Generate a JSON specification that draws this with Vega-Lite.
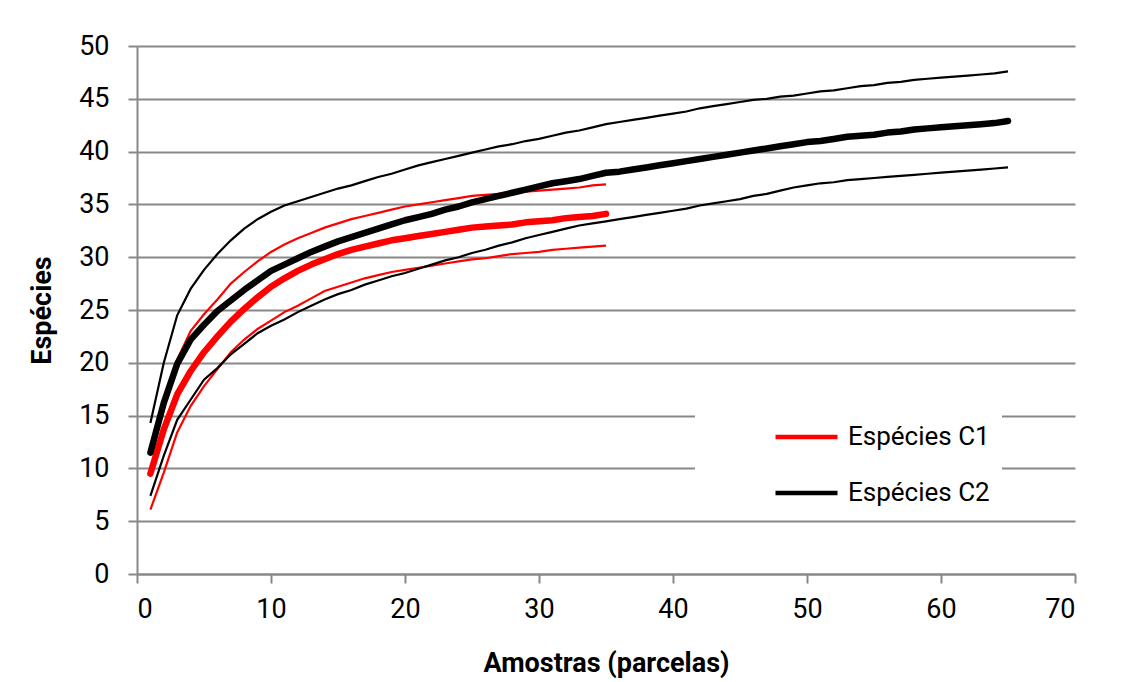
{
  "$schema": "https://vega.github.io/schema/vega-lite/v6.json",
  "width": 938,
  "height": 528,
  "autosize": {"type": "none"},
  "padding": {"left": 137, "top": 46, "right": 49, "bottom": 108},
  "background": "white",
  "config": {
    "font": "Roboto",
    "view": {"stroke": null},
    "axis": {
      "domainColor": "#888888",
      "domainWidth": 2,
      "tickColor": "#888888",
      "tickWidth": 2,
      "tickSize": 9,
      "gridColor": "#888888",
      "gridWidth": 2,
      "labelFont": "Roboto",
      "labelFontSize": 27,
      "labelColor": "#000000",
      "titleFont": "Roboto",
      "titleFontSize": 27,
      "titleFontWeight": "bold",
      "titleColor": "#000000"
    },
    "legend": {
      "orient": "none",
      "legendX": 558,
      "legendY": 364,
      "fillColor": "#ffffff",
      "padding": 12,
      "symbolType": "stroke",
      "symbolSize": 3844,
      "symbolStrokeWidth": 4.5,
      "symbolOffset": 66,
      "clipHeight": 30,
      "rowPadding": 26,
      "labelOffset": 8,
      "labelFont": "Roboto",
      "labelFontSize": 26,
      "labelColor": "#000000",
      "labelLimit": 400
    }
  },
  "data": {
    "values": [
      {"x":1,"s":"Espécies C1","c":"sup","y":11.8},{"x":2,"s":"Espécies C1","c":"sup","y":16.5},{"x":3,"s":"Espécies C1","c":"sup","y":20.3},{"x":4,"s":"Espécies C1","c":"sup","y":23.0},{"x":5,"s":"Espécies C1","c":"sup","y":24.6},{"x":6,"s":"Espécies C1","c":"sup","y":26.0},{"x":7,"s":"Espécies C1","c":"sup","y":27.5},{"x":8,"s":"Espécies C1","c":"sup","y":28.6},{"x":9,"s":"Espécies C1","c":"sup","y":29.6},{"x":10,"s":"Espécies C1","c":"sup","y":30.5},
      {"x":11,"s":"Espécies C1","c":"sup","y":31.2},{"x":12,"s":"Espécies C1","c":"sup","y":31.8},{"x":13,"s":"Espécies C1","c":"sup","y":32.3},{"x":14,"s":"Espécies C1","c":"sup","y":32.8},{"x":15,"s":"Espécies C1","c":"sup","y":33.2},{"x":16,"s":"Espécies C1","c":"sup","y":33.6},{"x":17,"s":"Espécies C1","c":"sup","y":33.9},{"x":18,"s":"Espécies C1","c":"sup","y":34.2},{"x":19,"s":"Espécies C1","c":"sup","y":34.5},{"x":20,"s":"Espécies C1","c":"sup","y":34.8},
      {"x":21,"s":"Espécies C1","c":"sup","y":35.0},{"x":22,"s":"Espécies C1","c":"sup","y":35.2},{"x":23,"s":"Espécies C1","c":"sup","y":35.4},{"x":24,"s":"Espécies C1","c":"sup","y":35.6},{"x":25,"s":"Espécies C1","c":"sup","y":35.8},{"x":26,"s":"Espécies C1","c":"sup","y":35.9},{"x":27,"s":"Espécies C1","c":"sup","y":36.0},{"x":28,"s":"Espécies C1","c":"sup","y":36.1},{"x":29,"s":"Espécies C1","c":"sup","y":36.2},{"x":30,"s":"Espécies C1","c":"sup","y":36.3},
      {"x":31,"s":"Espécies C1","c":"sup","y":36.4},{"x":32,"s":"Espécies C1","c":"sup","y":36.5},{"x":33,"s":"Espécies C1","c":"sup","y":36.6},{"x":34,"s":"Espécies C1","c":"sup","y":36.8},{"x":35,"s":"Espécies C1","c":"sup","y":36.9},

      {"x":1,"s":"Espécies C1","c":"inf","y":6.1},{"x":2,"s":"Espécies C1","c":"inf","y":9.6},{"x":3,"s":"Espécies C1","c":"inf","y":13.4},{"x":4,"s":"Espécies C1","c":"inf","y":15.9},{"x":5,"s":"Espécies C1","c":"inf","y":17.8},{"x":6,"s":"Espécies C1","c":"inf","y":19.4},{"x":7,"s":"Espécies C1","c":"inf","y":21.0},{"x":8,"s":"Espécies C1","c":"inf","y":22.2},{"x":9,"s":"Espécies C1","c":"inf","y":23.2},{"x":10,"s":"Espécies C1","c":"inf","y":24.0},
      {"x":11,"s":"Espécies C1","c":"inf","y":24.8},{"x":12,"s":"Espécies C1","c":"inf","y":25.4},{"x":13,"s":"Espécies C1","c":"inf","y":26.1},{"x":14,"s":"Espécies C1","c":"inf","y":26.8},{"x":15,"s":"Espécies C1","c":"inf","y":27.2},{"x":16,"s":"Espécies C1","c":"inf","y":27.6},{"x":17,"s":"Espécies C1","c":"inf","y":28.0},{"x":18,"s":"Espécies C1","c":"inf","y":28.3},{"x":19,"s":"Espécies C1","c":"inf","y":28.6},{"x":20,"s":"Espécies C1","c":"inf","y":28.8},
      {"x":21,"s":"Espécies C1","c":"inf","y":29.0},{"x":22,"s":"Espécies C1","c":"inf","y":29.2},{"x":23,"s":"Espécies C1","c":"inf","y":29.4},{"x":24,"s":"Espécies C1","c":"inf","y":29.6},{"x":25,"s":"Espécies C1","c":"inf","y":29.8},{"x":26,"s":"Espécies C1","c":"inf","y":29.9},{"x":27,"s":"Espécies C1","c":"inf","y":30.1},{"x":28,"s":"Espécies C1","c":"inf","y":30.3},{"x":29,"s":"Espécies C1","c":"inf","y":30.4},{"x":30,"s":"Espécies C1","c":"inf","y":30.5},
      {"x":31,"s":"Espécies C1","c":"inf","y":30.7},{"x":32,"s":"Espécies C1","c":"inf","y":30.8},{"x":33,"s":"Espécies C1","c":"inf","y":30.9},{"x":34,"s":"Espécies C1","c":"inf","y":31.0},{"x":35,"s":"Espécies C1","c":"inf","y":31.1},

      {"x":1,"s":"Espécies C2","c":"sup","y":14.3},{"x":2,"s":"Espécies C2","c":"sup","y":20.0},{"x":3,"s":"Espécies C2","c":"sup","y":24.5},{"x":4,"s":"Espécies C2","c":"sup","y":27.0},{"x":5,"s":"Espécies C2","c":"sup","y":28.8},{"x":6,"s":"Espécies C2","c":"sup","y":30.3},{"x":7,"s":"Espécies C2","c":"sup","y":31.6},{"x":8,"s":"Espécies C2","c":"sup","y":32.7},{"x":9,"s":"Espécies C2","c":"sup","y":33.6},{"x":10,"s":"Espécies C2","c":"sup","y":34.3},
      {"x":11,"s":"Espécies C2","c":"sup","y":34.9},{"x":12,"s":"Espécies C2","c":"sup","y":35.3},{"x":13,"s":"Espécies C2","c":"sup","y":35.7},{"x":14,"s":"Espécies C2","c":"sup","y":36.1},{"x":15,"s":"Espécies C2","c":"sup","y":36.5},{"x":16,"s":"Espécies C2","c":"sup","y":36.8},{"x":17,"s":"Espécies C2","c":"sup","y":37.2},{"x":18,"s":"Espécies C2","c":"sup","y":37.6},{"x":19,"s":"Espécies C2","c":"sup","y":37.9},{"x":20,"s":"Espécies C2","c":"sup","y":38.3},
      {"x":21,"s":"Espécies C2","c":"sup","y":38.7},{"x":22,"s":"Espécies C2","c":"sup","y":39.0},{"x":23,"s":"Espécies C2","c":"sup","y":39.3},{"x":24,"s":"Espécies C2","c":"sup","y":39.6},{"x":25,"s":"Espécies C2","c":"sup","y":39.9},{"x":26,"s":"Espécies C2","c":"sup","y":40.2},{"x":27,"s":"Espécies C2","c":"sup","y":40.5},{"x":28,"s":"Espécies C2","c":"sup","y":40.7},{"x":29,"s":"Espécies C2","c":"sup","y":41.0},{"x":30,"s":"Espécies C2","c":"sup","y":41.2},
      {"x":31,"s":"Espécies C2","c":"sup","y":41.5},{"x":32,"s":"Espécies C2","c":"sup","y":41.8},{"x":33,"s":"Espécies C2","c":"sup","y":42.0},{"x":34,"s":"Espécies C2","c":"sup","y":42.3},{"x":35,"s":"Espécies C2","c":"sup","y":42.6},{"x":36,"s":"Espécies C2","c":"sup","y":42.8},{"x":37,"s":"Espécies C2","c":"sup","y":43.0},{"x":38,"s":"Espécies C2","c":"sup","y":43.2},{"x":39,"s":"Espécies C2","c":"sup","y":43.4},{"x":40,"s":"Espécies C2","c":"sup","y":43.6},
      {"x":41,"s":"Espécies C2","c":"sup","y":43.8},{"x":42,"s":"Espécies C2","c":"sup","y":44.1},{"x":43,"s":"Espécies C2","c":"sup","y":44.3},{"x":44,"s":"Espécies C2","c":"sup","y":44.5},{"x":45,"s":"Espécies C2","c":"sup","y":44.7},{"x":46,"s":"Espécies C2","c":"sup","y":44.9},{"x":47,"s":"Espécies C2","c":"sup","y":45.0},{"x":48,"s":"Espécies C2","c":"sup","y":45.2},{"x":49,"s":"Espécies C2","c":"sup","y":45.3},{"x":50,"s":"Espécies C2","c":"sup","y":45.5},
      {"x":51,"s":"Espécies C2","c":"sup","y":45.7},{"x":52,"s":"Espécies C2","c":"sup","y":45.8},{"x":53,"s":"Espécies C2","c":"sup","y":46.0},{"x":54,"s":"Espécies C2","c":"sup","y":46.2},{"x":55,"s":"Espécies C2","c":"sup","y":46.3},{"x":56,"s":"Espécies C2","c":"sup","y":46.5},{"x":57,"s":"Espécies C2","c":"sup","y":46.6},{"x":58,"s":"Espécies C2","c":"sup","y":46.8},{"x":59,"s":"Espécies C2","c":"sup","y":46.9},{"x":60,"s":"Espécies C2","c":"sup","y":47.0},
      {"x":61,"s":"Espécies C2","c":"sup","y":47.1},{"x":62,"s":"Espécies C2","c":"sup","y":47.2},{"x":63,"s":"Espécies C2","c":"sup","y":47.3},{"x":64,"s":"Espécies C2","c":"sup","y":47.4},{"x":65,"s":"Espécies C2","c":"sup","y":47.6},

      {"x":1,"s":"Espécies C2","c":"inf","y":7.4},{"x":2,"s":"Espécies C2","c":"inf","y":11.2},{"x":3,"s":"Espécies C2","c":"inf","y":14.6},{"x":4,"s":"Espécies C2","c":"inf","y":16.5},{"x":5,"s":"Espécies C2","c":"inf","y":18.4},{"x":6,"s":"Espécies C2","c":"inf","y":19.5},{"x":7,"s":"Espécies C2","c":"inf","y":20.8},{"x":8,"s":"Espécies C2","c":"inf","y":21.8},{"x":9,"s":"Espécies C2","c":"inf","y":22.8},{"x":10,"s":"Espécies C2","c":"inf","y":23.5},
      {"x":11,"s":"Espécies C2","c":"inf","y":24.1},{"x":12,"s":"Espécies C2","c":"inf","y":24.8},{"x":13,"s":"Espécies C2","c":"inf","y":25.4},{"x":14,"s":"Espécies C2","c":"inf","y":26.0},{"x":15,"s":"Espécies C2","c":"inf","y":26.5},{"x":16,"s":"Espécies C2","c":"inf","y":26.9},{"x":17,"s":"Espécies C2","c":"inf","y":27.4},{"x":18,"s":"Espécies C2","c":"inf","y":27.8},{"x":19,"s":"Espécies C2","c":"inf","y":28.2},{"x":20,"s":"Espécies C2","c":"inf","y":28.5},
      {"x":21,"s":"Espécies C2","c":"inf","y":28.9},{"x":22,"s":"Espécies C2","c":"inf","y":29.3},{"x":23,"s":"Espécies C2","c":"inf","y":29.7},{"x":24,"s":"Espécies C2","c":"inf","y":30.0},{"x":25,"s":"Espécies C2","c":"inf","y":30.4},{"x":26,"s":"Espécies C2","c":"inf","y":30.7},{"x":27,"s":"Espécies C2","c":"inf","y":31.1},{"x":28,"s":"Espécies C2","c":"inf","y":31.4},{"x":29,"s":"Espécies C2","c":"inf","y":31.8},{"x":30,"s":"Espécies C2","c":"inf","y":32.1},
      {"x":31,"s":"Espécies C2","c":"inf","y":32.4},{"x":32,"s":"Espécies C2","c":"inf","y":32.7},{"x":33,"s":"Espécies C2","c":"inf","y":33.0},{"x":34,"s":"Espécies C2","c":"inf","y":33.2},{"x":35,"s":"Espécies C2","c":"inf","y":33.4},{"x":36,"s":"Espécies C2","c":"inf","y":33.6},{"x":37,"s":"Espécies C2","c":"inf","y":33.8},{"x":38,"s":"Espécies C2","c":"inf","y":34.0},{"x":39,"s":"Espécies C2","c":"inf","y":34.2},{"x":40,"s":"Espécies C2","c":"inf","y":34.4},
      {"x":41,"s":"Espécies C2","c":"inf","y":34.6},{"x":42,"s":"Espécies C2","c":"inf","y":34.9},{"x":43,"s":"Espécies C2","c":"inf","y":35.1},{"x":44,"s":"Espécies C2","c":"inf","y":35.3},{"x":45,"s":"Espécies C2","c":"inf","y":35.5},{"x":46,"s":"Espécies C2","c":"inf","y":35.8},{"x":47,"s":"Espécies C2","c":"inf","y":36.0},{"x":48,"s":"Espécies C2","c":"inf","y":36.3},{"x":49,"s":"Espécies C2","c":"inf","y":36.6},{"x":50,"s":"Espécies C2","c":"inf","y":36.8},
      {"x":51,"s":"Espécies C2","c":"inf","y":37.0},{"x":52,"s":"Espécies C2","c":"inf","y":37.1},{"x":53,"s":"Espécies C2","c":"inf","y":37.3},{"x":54,"s":"Espécies C2","c":"inf","y":37.4},{"x":55,"s":"Espécies C2","c":"inf","y":37.5},{"x":56,"s":"Espécies C2","c":"inf","y":37.6},{"x":57,"s":"Espécies C2","c":"inf","y":37.7},{"x":58,"s":"Espécies C2","c":"inf","y":37.8},{"x":59,"s":"Espécies C2","c":"inf","y":37.9},{"x":60,"s":"Espécies C2","c":"inf","y":38.0},
      {"x":61,"s":"Espécies C2","c":"inf","y":38.1},{"x":62,"s":"Espécies C2","c":"inf","y":38.2},{"x":63,"s":"Espécies C2","c":"inf","y":38.3},{"x":64,"s":"Espécies C2","c":"inf","y":38.4},{"x":65,"s":"Espécies C2","c":"inf","y":38.5},

      {"x":1,"s":"Espécies C1","c":"med","y":9.5},{"x":2,"s":"Espécies C1","c":"med","y":13.7},{"x":3,"s":"Espécies C1","c":"med","y":17.0},{"x":4,"s":"Espécies C1","c":"med","y":19.2},{"x":5,"s":"Espécies C1","c":"med","y":21.0},{"x":6,"s":"Espécies C1","c":"med","y":22.5},{"x":7,"s":"Espécies C1","c":"med","y":23.9},{"x":8,"s":"Espécies C1","c":"med","y":25.1},{"x":9,"s":"Espécies C1","c":"med","y":26.2},{"x":10,"s":"Espécies C1","c":"med","y":27.2},
      {"x":11,"s":"Espécies C1","c":"med","y":28.0},{"x":12,"s":"Espécies C1","c":"med","y":28.7},{"x":13,"s":"Espécies C1","c":"med","y":29.3},{"x":14,"s":"Espécies C1","c":"med","y":29.8},{"x":15,"s":"Espécies C1","c":"med","y":30.3},{"x":16,"s":"Espécies C1","c":"med","y":30.7},{"x":17,"s":"Espécies C1","c":"med","y":31.0},{"x":18,"s":"Espécies C1","c":"med","y":31.3},{"x":19,"s":"Espécies C1","c":"med","y":31.6},{"x":20,"s":"Espécies C1","c":"med","y":31.8},
      {"x":21,"s":"Espécies C1","c":"med","y":32.0},{"x":22,"s":"Espécies C1","c":"med","y":32.2},{"x":23,"s":"Espécies C1","c":"med","y":32.4},{"x":24,"s":"Espécies C1","c":"med","y":32.6},{"x":25,"s":"Espécies C1","c":"med","y":32.8},{"x":26,"s":"Espécies C1","c":"med","y":32.9},{"x":27,"s":"Espécies C1","c":"med","y":33.0},{"x":28,"s":"Espécies C1","c":"med","y":33.1},{"x":29,"s":"Espécies C1","c":"med","y":33.3},{"x":30,"s":"Espécies C1","c":"med","y":33.4},
      {"x":31,"s":"Espécies C1","c":"med","y":33.5},{"x":32,"s":"Espécies C1","c":"med","y":33.7},{"x":33,"s":"Espécies C1","c":"med","y":33.8},{"x":34,"s":"Espécies C1","c":"med","y":33.9},{"x":35,"s":"Espécies C1","c":"med","y":34.1},

      {"x":1,"s":"Espécies C2","c":"med","y":11.5},{"x":2,"s":"Espécies C2","c":"med","y":16.2},{"x":3,"s":"Espécies C2","c":"med","y":19.9},{"x":4,"s":"Espécies C2","c":"med","y":22.2},{"x":5,"s":"Espécies C2","c":"med","y":23.6},{"x":6,"s":"Espécies C2","c":"med","y":24.9},{"x":7,"s":"Espécies C2","c":"med","y":25.9},{"x":8,"s":"Espécies C2","c":"med","y":26.9},{"x":9,"s":"Espécies C2","c":"med","y":27.8},{"x":10,"s":"Espécies C2","c":"med","y":28.7},
      {"x":11,"s":"Espécies C2","c":"med","y":29.3},{"x":12,"s":"Espécies C2","c":"med","y":29.9},{"x":13,"s":"Espécies C2","c":"med","y":30.5},{"x":14,"s":"Espécies C2","c":"med","y":31.0},{"x":15,"s":"Espécies C2","c":"med","y":31.5},{"x":16,"s":"Espécies C2","c":"med","y":31.9},{"x":17,"s":"Espécies C2","c":"med","y":32.3},{"x":18,"s":"Espécies C2","c":"med","y":32.7},{"x":19,"s":"Espécies C2","c":"med","y":33.1},{"x":20,"s":"Espécies C2","c":"med","y":33.5},
      {"x":21,"s":"Espécies C2","c":"med","y":33.8},{"x":22,"s":"Espécies C2","c":"med","y":34.1},{"x":23,"s":"Espécies C2","c":"med","y":34.5},{"x":24,"s":"Espécies C2","c":"med","y":34.8},{"x":25,"s":"Espécies C2","c":"med","y":35.2},{"x":26,"s":"Espécies C2","c":"med","y":35.5},{"x":27,"s":"Espécies C2","c":"med","y":35.8},{"x":28,"s":"Espécies C2","c":"med","y":36.1},{"x":29,"s":"Espécies C2","c":"med","y":36.4},{"x":30,"s":"Espécies C2","c":"med","y":36.7},
      {"x":31,"s":"Espécies C2","c":"med","y":37.0},{"x":32,"s":"Espécies C2","c":"med","y":37.2},{"x":33,"s":"Espécies C2","c":"med","y":37.4},{"x":34,"s":"Espécies C2","c":"med","y":37.7},{"x":35,"s":"Espécies C2","c":"med","y":38.0},{"x":36,"s":"Espécies C2","c":"med","y":38.1},{"x":37,"s":"Espécies C2","c":"med","y":38.3},{"x":38,"s":"Espécies C2","c":"med","y":38.5},{"x":39,"s":"Espécies C2","c":"med","y":38.7},{"x":40,"s":"Espécies C2","c":"med","y":38.9},
      {"x":41,"s":"Espécies C2","c":"med","y":39.1},{"x":42,"s":"Espécies C2","c":"med","y":39.3},{"x":43,"s":"Espécies C2","c":"med","y":39.5},{"x":44,"s":"Espécies C2","c":"med","y":39.7},{"x":45,"s":"Espécies C2","c":"med","y":39.9},{"x":46,"s":"Espécies C2","c":"med","y":40.1},{"x":47,"s":"Espécies C2","c":"med","y":40.3},{"x":48,"s":"Espécies C2","c":"med","y":40.5},{"x":49,"s":"Espécies C2","c":"med","y":40.7},{"x":50,"s":"Espécies C2","c":"med","y":40.9},
      {"x":51,"s":"Espécies C2","c":"med","y":41.0},{"x":52,"s":"Espécies C2","c":"med","y":41.2},{"x":53,"s":"Espécies C2","c":"med","y":41.4},{"x":54,"s":"Espécies C2","c":"med","y":41.5},{"x":55,"s":"Espécies C2","c":"med","y":41.6},{"x":56,"s":"Espécies C2","c":"med","y":41.8},{"x":57,"s":"Espécies C2","c":"med","y":41.9},{"x":58,"s":"Espécies C2","c":"med","y":42.1},{"x":59,"s":"Espécies C2","c":"med","y":42.2},{"x":60,"s":"Espécies C2","c":"med","y":42.3},
      {"x":61,"s":"Espécies C2","c":"med","y":42.4},{"x":62,"s":"Espécies C2","c":"med","y":42.5},{"x":63,"s":"Espécies C2","c":"med","y":42.6},{"x":64,"s":"Espécies C2","c":"med","y":42.7},{"x":65,"s":"Espécies C2","c":"med","y":42.9}
    ]
  },
  "encoding": {
    "x": {
      "field": "x",
      "type": "quantitative",
      "scale": {"domain": [0, 70], "nice": false},
      "axis": {
        "title": "Amostras (parcelas)",
        "values": [0, 10, 20, 30, 40, 50, 60, 70],
        "grid": false,
        "labelPadding": 13,
        "titlePadding": 28
      }
    },
    "y": {
      "field": "y",
      "type": "quantitative",
      "scale": {"domain": [0, 50], "nice": false},
      "axis": {
        "title": "Espécies",
        "values": [0, 5, 10, 15, 20, 25, 30, 35, 40, 45, 50],
        "grid": true,
        "labelPadding": 19,
        "titlePadding": 22
      }
    },
    "color": {
      "field": "s",
      "type": "nominal",
      "scale": {"domain": ["Espécies C1", "Espécies C2"], "range": ["#ff0000", "#000000"]},
      "legend": {"title": null}
    }
  },
  "layer": [
    {
      "transform": [{"filter": "datum.c !== 'med'"}],
      "mark": {"type": "line", "strokeWidth": 2.2},
      "encoding": {
        "detail": {"field": "c", "type": "nominal"}
      }
    },
    {
      "transform": [{"filter": "datum.c === 'med'"}],
      "mark": {"type": "line", "strokeWidth": 6.5, "strokeCap": "round", "strokeJoin": "round"},
      "encoding": {}
    }
  ]
}
